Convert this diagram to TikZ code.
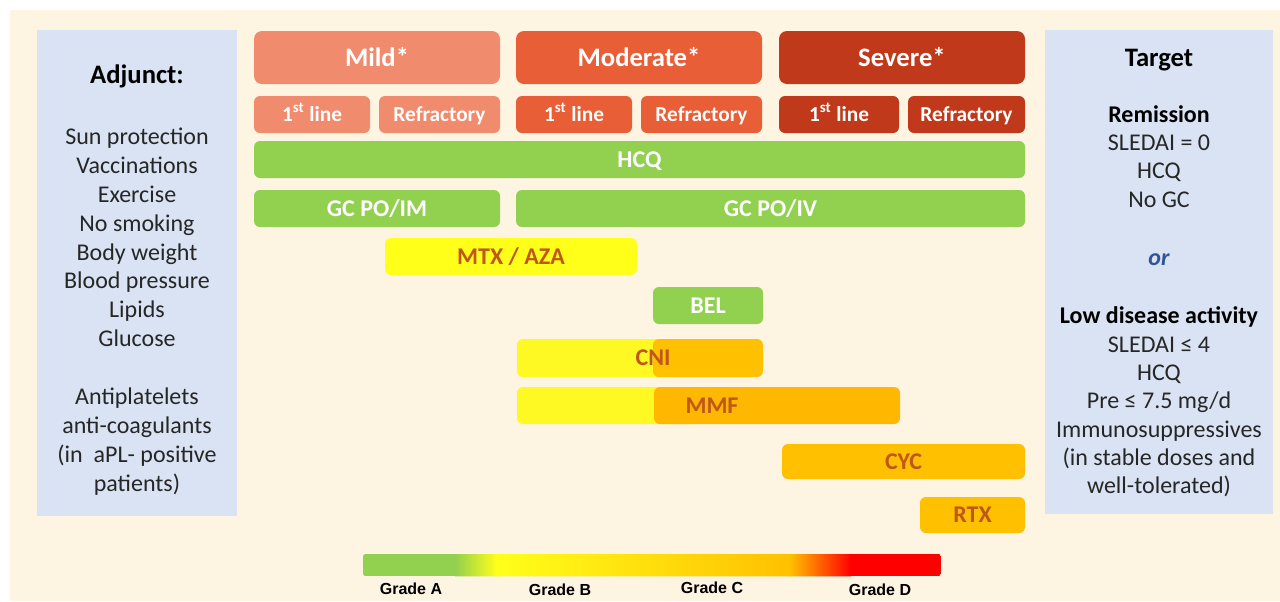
\documentclass[tikz,border=0pt]{standalone}
\usepackage{fontspec}
\setmainfont{Carlito}
\newfontfamily\gradefont{Liberation Sans}
\definecolor{cream}{HTML}{FDF4E1}
\definecolor{panelc}{HTML}{DAE3F3}
\definecolor{mildc}{HTML}{F08B6D}
\definecolor{modc}{HTML}{E85E37}
\definecolor{sevc}{HTML}{C0391A}
\definecolor{greenc}{HTML}{92D050}
\definecolor{yellowc}{HTML}{FFFF1A}
\definecolor{paleyel}{HTML}{FFF923}
\definecolor{goldc}{HTML}{FFC000}
\definecolor{deepgold}{HTML}{FFB700}
\definecolor{drugtxt}{HTML}{C0561A}
\definecolor{bodytxt}{HTML}{262626}
\definecolor{orblue}{HTML}{2F5597}
\definecolor{redc}{HTML}{FF0000}

% box given by its pixel corners: name, style, x1, y1, x2, y2, text
\newcommand\barbox[7]{%
  \pgfmathsetmacro\bxw{(#5-#3)*0.75}%
  \pgfmathsetmacro\bxh{(#6-#4)*0.75}%
  \node[#2, minimum width=\bxw pt, minimum height=\bxh pt, inner sep=0pt]
    (#1) at ({(#3+#5)/2},{(#4+#6)/2}) {#7};}

\tikzset{
  panel/.style={fill=panelc},
  sevbox/.style={rounded corners=6pt, text=white, text height=16pt, text depth=3.2pt,
    font=\fontsize{20}{24}\selectfont\bfseries},
  subbox/.style={rounded corners=4.5pt, text=white, text height=12.8pt, text depth=2.6pt,
    font=\fontsize{16}{19}\selectfont\bfseries},
  bar/.style={rounded corners=4.5pt, text height=14.4pt, text depth=2.9pt,
    font=\fontsize{18}{22}\selectfont\bfseries},
  greenbar/.style={bar, fill=greenc, text=white},
  drugbar/.style={bar, text=drugtxt},
  lbl/.style={anchor=base, inner sep=0pt, font=\fontsize{18}{22}\selectfont\bfseries, text=drugtxt},
  body/.style={anchor=base, inner sep=0pt, text=bodytxt, font=\fontsize{18}{22}\selectfont},
  head/.style={anchor=base, inner sep=0pt, text=black, font=\fontsize{20}{24}\selectfont\bfseries},
  subhead/.style={anchor=base, inner sep=0pt, text=black, font=\fontsize{18}{22}\selectfont\bfseries},
  grade/.style={anchor=base, inner sep=0pt, text=black, font=\gradefont\fontsize{12}{14}\selectfont\bfseries},
}

\begin{document}
\begin{tikzpicture}[x=0.75pt, y=-0.75pt]
\useasboundingbox (0,0) rectangle (1280,601);
\fill[cream] (10,10) rectangle (1280,601);

% side panels
\barbox{adjpanel}{panel}{37}{30}{237}{516}{}
\barbox{targetpanel}{panel}{1045}{30}{1273}{514}{}

% severity headers
\barbox{mild}{sevbox, fill=mildc}{254}{31}{500}{84}{Mild*}
\barbox{moderate}{sevbox, fill=modc}{516}{31}{762}{84}{Moderate*}
\barbox{severe}{sevbox, fill=sevc}{779}{31}{1025}{84}{Severe*}

\barbox{mildfirst}{subbox, fill=mildc}{254}{96}{370}{133}{1\textsuperscript{st} line}
\barbox{mildrefr}{subbox, fill=mildc}{379}{96}{500}{133}{Refractory}
\barbox{modfirst}{subbox, fill=modc}{516}{96}{632}{133}{1\textsuperscript{st} line}
\barbox{modrefr}{subbox, fill=modc}{641}{96}{762}{133}{Refractory}
\barbox{sevfirst}{subbox, fill=sevc}{779}{96}{899}{133}{1\textsuperscript{st} line}
\barbox{sevrefr}{subbox, fill=sevc}{908}{96}{1025}{133}{Refractory}

% treatment bars
\barbox{hcq}{greenbar}{254}{141}{1025}{178}{HCQ}
\barbox{gcim}{greenbar}{254}{190}{500}{227}{GC PO/IM}
\barbox{gciv}{greenbar}{516}{190}{1025}{227}{GC PO/IV}
\barbox{mtx}{drugbar, fill=yellowc}{385}{238}{637}{275}{MTX / AZA}
\barbox{bel}{greenbar}{653}{287}{763}{324}{BEL}

\barbox{cniyel}{bar, fill=paleyel}{517}{339}{700}{377}{}
\barbox{cnigold}{bar, fill=goldc}{653}{339}{763}{377}{}
\node[lbl] (cni) at (653,365) {CNI};

\barbox{mmfyel}{bar, fill=paleyel}{517}{387}{700}{424}{}
\barbox{mmfgold}{bar, fill=deepgold}{654}{387}{900}{424}{}
\node[lbl] (mmf) at (712,413) {MMF};

\barbox{cyc}{drugbar, fill=goldc}{782}{444}{1025}{479}{CYC}
\barbox{rtx}{drugbar, fill=goldc}{920}{497}{1025}{533}{RTX}

% evidence grade scale
\barbox{gradebar}{inner sep=0pt}{363}{554}{941}{576}{}
\begin{scope}
  \clip[rounded corners=2.5pt] (gradebar.north west) rectangle (gradebar.south east);
  \fill[greenc] (363,554) rectangle (456,576);
  \shade[left color=greenc, right color=yellowc] (455,554) rectangle (497,576);
  \shade[left color=yellowc, right color=goldc] (496,554) rectangle (791,576);
  \shade[left color=goldc, right color=redc] (790,554) rectangle (851,576);
  \fill[redc] (850,554) rectangle (941,576);
\end{scope}
\node[grade] (ga) at (411,594) {Grade A};
\node[grade] (gb) at (560,595) {Grade B};
\node[grade] (gc) at (712,593) {Grade C};
\node[grade] (gd) at (880,595) {Grade D};

% adjunct list
\node[head] (adjhead) at (137,83) {Adjunct:};
\node[body] (adj1) at (137,144) {Sun protection};
\node[body] (adj2) at (137,173) {Vaccinations};
\node[body] (adj3) at (137,202) {Exercise};
\node[body] (adj4) at (137,231) {No smoking};
\node[body] (adj5) at (137,260) {Body weight};
\node[body] (adj6) at (137,288) {Blood pressure};
\node[body] (adj7) at (137,317) {Lipids};
\node[body] (adj8) at (137,346) {Glucose};
\node[body] (adj9) at (137,404) {Antiplatelets};
\node[body] (adj10) at (137,433) {anti-coagulants};
\node[body] (adj11) at (137,462) {(in\ \ aPL- positive};
\node[body] (adj12) at (137,491) {patients)};

% treatment targets
\node[head] (tgthead) at (1159,66) {Target};
\node[subhead] (rem) at (1159,122) {Remission};
\node[body] (rem1) at (1159,150) {SLEDAI = 0};
\node[body] (rem2) at (1159,178) {HCQ};
\node[body] (rem3) at (1159,207) {No GC};
\node[anchor=base, inner sep=0pt, text=orblue, font=\fontsize{18}{22}\selectfont\bfseries\itshape] (or) at (1159,265) {or};
\node[subhead] (lda) at (1159,323) {Low disease activity};
\node[body] (lda1) at (1159,352) {SLEDAI ≤ 4};
\node[body] (lda2) at (1159,380) {HCQ};
\node[body] (lda3) at (1159,408) {Pre ≤ 7.5 mg/d};
\node[body] (lda4) at (1159,437) {Immunosuppressives};
\node[body] (lda5) at (1159,465) {(in stable doses and};
\node[body] (lda6) at (1159,493) {well-tolerated)};
\end{tikzpicture}
\end{document}
